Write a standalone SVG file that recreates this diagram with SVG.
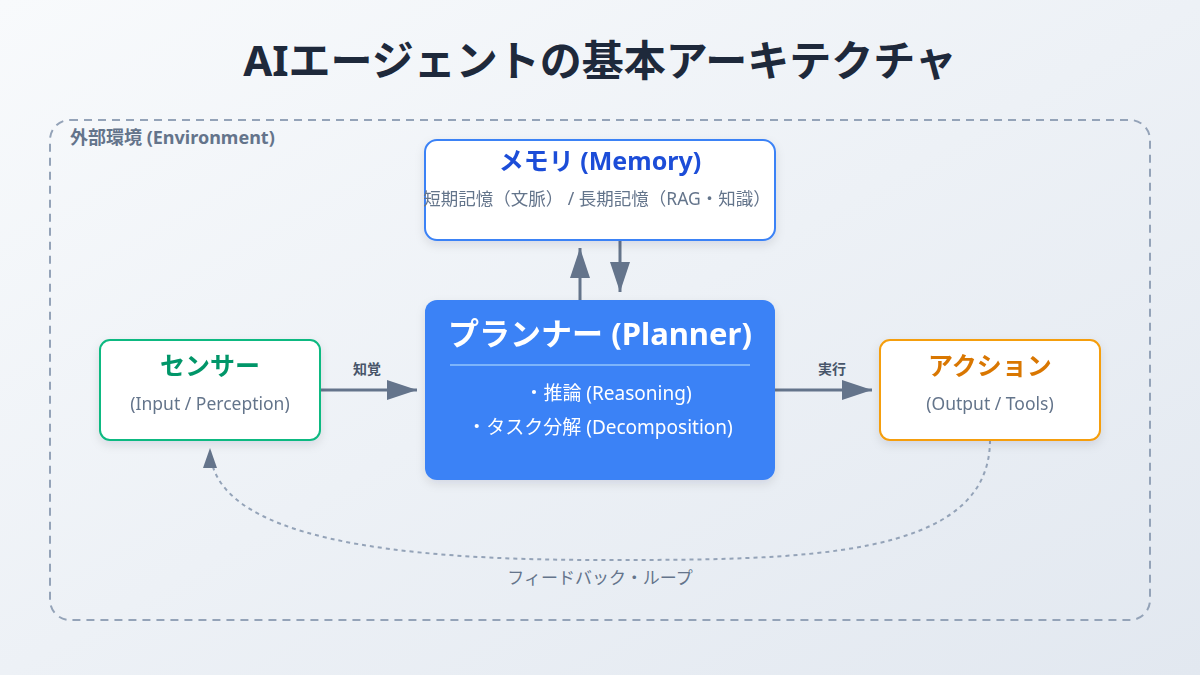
<svg xmlns="http://www.w3.org/2000/svg" width="1200" height="675" viewBox="0 0 1200 675">
<defs>
<linearGradient id="bg" x1="0" y1="0" x2="1" y2="1"><stop offset="0" stop-color="#f8fafc"/><stop offset="1" stop-color="#e2e8f0"/></linearGradient>
<filter id="sh" x="-10%" y="-10%" width="120%" height="130%"><feDropShadow dx="0" dy="4" stdDeviation="5" flood-color="#0f172a" flood-opacity="0.1"/></filter>
<marker id="big" viewBox="0 0 10 10" refX="10" refY="5" markerWidth="30" markerHeight="20" orient="auto" markerUnits="userSpaceOnUse" preserveAspectRatio="none"><path d="M0,0 L10,5 L0,10 z" fill="#64748b"/></marker>
<style>
text{font-family:"Noto Sans","Noto Sans CJK JP",sans-serif}
.box{fill:#fff;stroke-width:2}
.sub{font-size:17.5px;fill:#64748b;text-anchor:middle}
.ttl{font-size:25px;font-weight:700;text-anchor:middle}
.lbl{font-size:14px;font-weight:700;fill:#475569;text-anchor:middle}
.ln{stroke:#64748b;stroke-width:3;fill:none}
</style>
</defs>
<rect width="1200" height="675" fill="url(#bg)"/>
<text x="600" y="76" font-size="42" font-weight="700" fill="#1e293b" text-anchor="middle">AIエージェントの基本アーキテクチャ</text>
<g id="environment">
<rect x="50" y="120" width="1100" height="500" rx="20" fill="none" stroke="#94a3b8" stroke-width="2" stroke-dasharray="8,6"/>
<text x="70" y="144" font-size="18" font-weight="700" fill="#64748b">外部環境 (Environment)</text>
</g>
<g id="connectors">
<line class="ln" x1="580" y1="300" x2="580" y2="248" marker-end="url(#big)"/>
<line class="ln" x1="620" y1="240" x2="620" y2="292" marker-end="url(#big)"/>
<line class="ln" x1="320" y1="390" x2="417" y2="390" marker-end="url(#big)"/>
<line class="ln" x1="775" y1="390" x2="872" y2="390" marker-end="url(#big)"/>
<path d="M990,440 C990,560 800,560 600,560 C400,560 210,540 210,448" fill="none" stroke="#94a3b8" stroke-width="2" stroke-dasharray="4,4"/>
<path d="M203,468 L210,448 L217,468 z" fill="#64748b"/>
<text class="lbl" x="367" y="374">知覚</text>
<text class="lbl" x="832" y="374">実行</text>
<text x="600" y="584" font-size="17" fill="#64748b" text-anchor="middle">フィードバック・ループ</text>
</g>
<g id="memory" filter="url(#sh)">
<rect class="box" x="425" y="140" width="350" height="100" rx="12" stroke="#3b82f6"/>
<text class="ttl" x="600" y="170" fill="#1d4ed8">メモリ (Memory)</text>
<text class="sub" x="597" y="205">短期記憶（文脈） / 長期記憶（RAG・知識）</text>
</g>
<g id="planner" filter="url(#sh)">
<rect x="425" y="300" width="350" height="180" rx="12" fill="#3b82f6"/>
<text x="600" y="345" font-size="31" font-weight="700" fill="#fff" text-anchor="middle">プランナー (Planner)</text>
<line x1="450" y1="365" x2="750" y2="365" stroke="#93c5fd" stroke-width="1.5"/>
<text x="608" y="400" font-size="19" fill="#fff" text-anchor="middle">・推論 (Reasoning)</text>
<text x="600" y="434" font-size="19" fill="#fff" text-anchor="middle">・タスク分解 (Decomposition)</text>
</g>
<g id="sensor" filter="url(#sh)">
<rect class="box" x="100" y="340" width="220" height="100" rx="10" stroke="#10b981"/>
<text class="ttl" x="210" y="375" fill="#059669">センサー</text>
<text class="sub" x="210" y="410">(Input / Perception)</text>
</g>
<g id="action" filter="url(#sh)">
<rect class="box" x="880" y="340" width="220" height="100" rx="10" stroke="#f59e0b"/>
<text class="ttl" x="990" y="375" fill="#d97706">アクション</text>
<text class="sub" x="990" y="410">(Output / Tools)</text>
</g>
</svg>
